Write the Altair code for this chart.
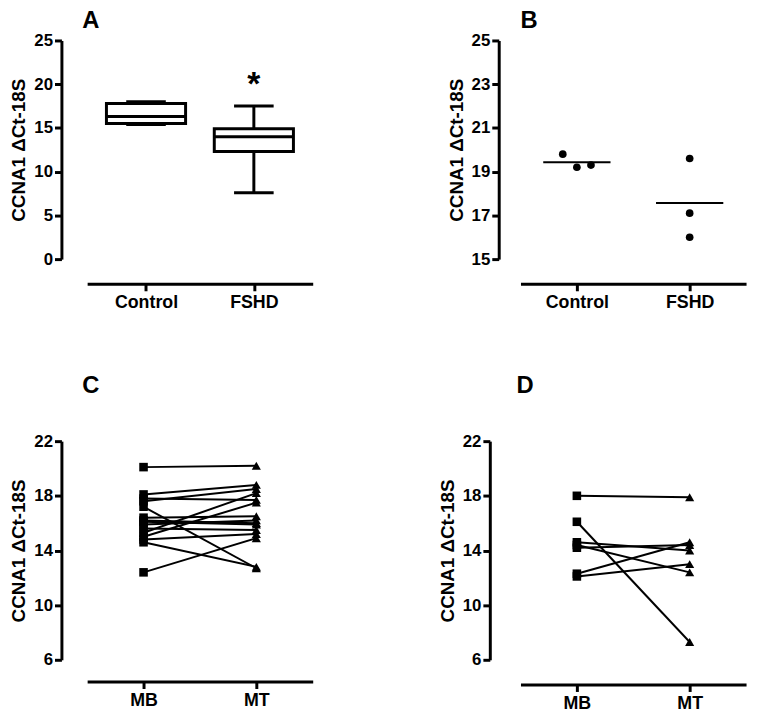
import json
import altair as alt
import pandas as pd

FONT = "Liberation Sans"
YTITLE = "CCNA1  ΔCt-18S"

# ---------------- Panel A : box plots ----------------
a_groups = ["Control", "FSHD"]
a_min = [15.4, 7.6]
a_q1 = [15.5, 12.3]
a_median = [16.3, 14.0]
a_q3 = [17.8, 14.9]
a_max = [18.0, 17.5]
a_star_group = ["FSHD"]
a_star_value = [19.9]
a_star_text = ["*"]

# ---------------- Panel B : dot plot with means ----------------
b_groups = ["Control", "FSHD"]
b_point_group = ["Control", "Control", "Control", "FSHD", "FSHD", "FSHD"]
b_point_value = [19.8, 19.2, 19.3, 19.6, 17.1, 16.0]
b_point_jitter = [-0.125, 0.0, 0.125, 0.0, 0.0, 0.0]

# ---------------- Panel C : paired MB -> MT ----------------
pair_groups = ["MB", "MT"]
c_mb = [20.1, 18.1, 17.8, 17.6, 17.2, 16.4, 16.2, 16.1, 15.9, 15.6, 15.3, 15.0, 14.8, 14.6, 12.4]
c_mt = [20.2, 18.8, 17.7, 18.5, 12.7, 16.5, 16.0, 15.9, 16.2, 15.5, 18.2, 17.5, 15.2, 12.8, 14.9]

# ---------------- Panel D : paired MB -> MT ----------------
d_mb = [18.0, 16.1, 14.6, 14.4, 14.2, 12.3, 12.1]
d_mt = [17.9, 7.3, 14.0, 12.4, 14.4, 14.6, 13.0]

W, H = 228, 221


def x_enc(cats, offset, field="xi"):
    expr = json.dumps([""] + cats) + "[datum.value]"
    return alt.X(
        f"{field}:Q",
        scale=alt.Scale(domain=[0.5, 2.5], nice=False, zero=False),
        axis=alt.Axis(
            values=[1, 2], labelExpr=expr, title=None, grid=False, offset=offset,
            domainWidth=3, domainColor="black", tickWidth=3, tickColor="black",
            tickSize=7, labelFont=FONT, labelFontSize=18, labelFontWeight="bold",
            labelColor="black", labelPadding=3, labelFlush=False, labelOverlap=False,
        ),
    )


def y_enc(field, domain, values, offset):
    return alt.Y(
        f"{field}:Q",
        scale=alt.Scale(domain=domain, nice=False, zero=False),
        axis=alt.Axis(
            values=values, title=YTITLE, grid=False, offset=offset, format="d",
            domainWidth=3, domainColor="black", tickWidth=3, tickColor="black",
            tickSize=7, labelFont=FONT, labelFontSize=17, labelFontWeight="bold",
            labelColor="black", labelPadding=2, titleFont=FONT, titleFontSize=19,
            titleFontWeight="bold", titleColor="black", titlePadding=5,
        ),
    )


def ptitle(letter, offset, dx):
    return alt.TitleParams(letter, anchor="start", frame="group", font=FONT, fontSize=24,
                           fontWeight="bold", color="black", offset=offset, dx=dx)


# ---- Panel A
dfa = pd.DataFrame({"group": a_groups, "mn": a_min, "q1": a_q1, "med": a_median,
                    "q3": a_q3, "mx": a_max})
dfa["xi"] = [a_groups.index(g) + 1 for g in dfa["group"]]
dfs = pd.DataFrame({"group": a_star_group, "v": a_star_value, "t": a_star_text})
dfs["xi"] = [a_groups.index(g) + 1 for g in dfs["group"]]

ya = y_enc("mn", [0, 25], [0, 5, 10, 15, 20, 25], 26)
xa = x_enc(a_groups, 25)
baseA = alt.Chart(dfa)
whisk = baseA.mark_rule(color="black", strokeWidth=3).encode(x=xa, y=ya, y2="mx:Q")
box = baseA.mark_bar(size=80, fill="white", stroke="black", strokeWidth=3).encode(
    x=alt.X("xi:Q"), y=alt.Y("q1:Q"), y2="q3:Q")
med = baseA.mark_tick(orient="horizontal", size=80, thickness=3, color="black", opacity=1).encode(
    x=alt.X("xi:Q"), y=alt.Y("med:Q"))
capl = baseA.mark_tick(orient="horizontal", size=40, thickness=3, color="black", opacity=1).encode(
    x=alt.X("xi:Q"), y=alt.Y("mn:Q"))
caph = baseA.mark_tick(orient="horizontal", size=40, thickness=3, color="black", opacity=1).encode(
    x=alt.X("xi:Q"), y=alt.Y("mx:Q"))
star = alt.Chart(dfs).mark_text(font=FONT, fontSize=34, fontWeight="bold", color="black",
                                baseline="middle", align="center").encode(
    x=alt.X("xi:Q"), y=alt.Y("v:Q"), text="t:N")
panelA = alt.layer(whisk, box, med, capl, caph, star).properties(
    width=W, height=H, title=ptitle("A", -1, -5))

# ---- Panel B
dfb = pd.DataFrame({"group": b_point_group, "v": b_point_value, "j": b_point_jitter})
dfb["xi"] = [b_groups.index(g) + 1 + j for g, j in zip(dfb["group"], dfb["j"])]
means = [float(dfb[dfb["group"] == g]["v"].mean()) for g in b_groups]
dfbm = pd.DataFrame({"group": b_groups, "v": means, "xi": [1, 2]})
yb = y_enc("v", [15, 25], [15, 17, 19, 21, 23, 25], 22)
xb = x_enc(b_groups, 25)
pts = alt.Chart(dfb).mark_circle(size=60, color="black", opacity=1).encode(x=xb, y=yb)
mline = alt.Chart(dfbm).mark_tick(orient="horizontal", size=68, thickness=2, color="black",
                                  opacity=1).encode(x=alt.X("xi:Q"), y=alt.Y("v:Q"))
panelB = alt.layer(pts, mline).properties(width=W, height=H, title=ptitle("B", -1, 0))


def paired(mb, mt, yoff, xoff, letter, toff, dx):
    rows = []
    for i, (a, b) in enumerate(zip(mb, mt)):
        rows.append({"pair": i, "xi": 1, "v": a, "stage": "MB"})
        rows.append({"pair": i, "xi": 2, "v": b, "stage": "MT"})
    df = pd.DataFrame(rows)
    y = y_enc("v", [6, 22], list(range(6, 23, 2)), yoff)
    x = x_enc(pair_groups, xoff)
    base = alt.Chart(df)
    lines = base.mark_line(color="black", strokeWidth=2).encode(x=x, y=y, detail="pair:N")
    sq = base.transform_filter("datum.stage == 'MB'").mark_square(
        size=75, color="black", opacity=1).encode(x=alt.X("xi:Q"), y=alt.Y("v:Q"))
    tri = base.transform_filter("datum.stage == 'MT'").mark_point(
        shape="triangle-up", filled=True, size=85, color="black", opacity=1).encode(
        x=alt.X("xi:Q"), y=alt.Y("v:Q"))
    return alt.layer(lines, sq, tri).properties(width=W, height=H,
                                                title=ptitle(letter, toff, dx))


panelC = paired(c_mb, c_mt, 26, 22, "C", 35, -5)
panelD = paired(d_mb, d_mt, 31, 25, "D", 35, -4)

chart = alt.concat(
    panelA, panelB, panelC, panelD, columns=2,
    spacing=alt.RowColnumber(row=184, column=210),
    bounds="flush", align="all",
).properties(
    autosize=alt.AutoSizeParams(type="none"),
    padding={"left": 80, "top": 29, "right": 671, "bottom": 680},
    background="white",
).configure_view(strokeWidth=0)

chart.save("out.html", embed_options={"renderer": "svg", "actions": False})
